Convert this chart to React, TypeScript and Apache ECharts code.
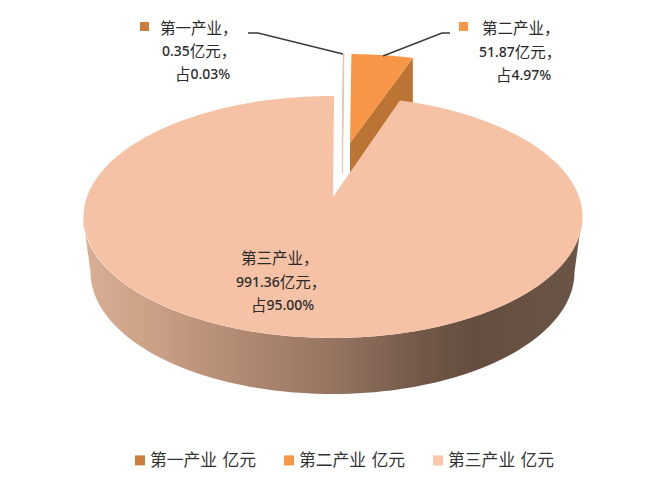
import React, { useEffect, useRef } from "react";
import * as echarts from "echarts";

const sectors = ["第一产业", "第二产业", "第三产业"];
const unit = "亿元";
const values = [0.35, 51.87, 991.36];
const shares = ["0.03", "4.97", "95.00"];
const valueLabels = ["0.35", "51.87", "991.36"];
const colors = ["#cb7d3b", "#f79646", "#f6c2a6"];
const legendColors = ["#cb7d3b", "#f79646", "#fcc5a8"];

const CX = 332.5, CY = 217, RX = 249.5, RY = 121, PERSP = 0.165, ROT = 0.3;
const base = { x: CX, y: CY - RY * PERSP };
const sliceShape = [
  { ax: 342.4, ay: 143, sx: 0.94, sy: 0.88, depth: 30, wall: "#e3bd9e", stroke: "#e6c7ae" },
  { ax: 350, ay: 143, sx: 0.94, sy: 0.88, depth: 56, wall: "#bc7434", stroke: "none" },
  { ax: 333, ay: 197, sx: 1, sy: 1, depth: 0, wall: "", stroke: "none" },
];

function rel(deg: number) {
  const t = ((deg + ROT) * Math.PI) / 180;
  const X = Math.sin(t), Y = Math.cos(t);
  const d = 1 + PERSP * Y;
  const u = (X * Math.sqrt(1 - PERSP * PERSP)) / d;
  const v = (Y + PERSP) / d;
  return { x: CX + RX * u - base.x, y: CY - RY * v - base.y };
}

function ell(cx: number, cy: number, rx: number, ry: number, deg: number) {
  const t = (deg * Math.PI) / 180;
  return [cx + rx * Math.sin(t), cy - ry * Math.cos(t)];
}

const total = values.reduce((a, b) => a + b, 0);

function makeRender(index: number) {
  return (_p: any, api: any) => {
    const before = values.slice(0, index).reduce((a, b) => a + b, 0);
    const start = (before / total) * 360;
    const end = start + (api.value(0) / total) * 360;
    const s = sliceShape[index];
    const steps = Math.max(2, Math.ceil(end - start));
    const arc: number[][] = [];
    for (let i = 0; i <= steps; i++) {
      const r = rel(start + ((end - start) * i) / steps);
      arc.push([s.ax + r.x * s.sx, s.ay + r.y * s.sy]);
    }
    const children: any[] = [];
    if (index === 2) {
      const wall: number[][] = [];
      for (let d = 90; d <= 270; d += 2) wall.push(ell(CX, CY, RX, RY, d));
      for (let d = 270; d >= 90; d -= 2) wall.push(ell(CX, 272, 242, 122, d));
      children.push({
        type: "polygon",
        shape: { points: wall },
        style: {
          fill: new echarts.graphic.LinearGradient(0, 0, 1, 0, [
            { offset: 0, color: "#d9ae95" },
            { offset: 0.12, color: "#cda388" },
            { offset: 0.3, color: "#b48b74" },
            { offset: 0.5, color: "#967562" },
            { offset: 0.68, color: "#725848" },
            { offset: 0.78, color: "#644e40" },
            { offset: 1, color: "#6b5546" },
          ]),
        },
      });
    } else {
      const last = arc[arc.length - 1];
      const first = arc[0];
      const far = index === 0 ? first : last;
      children.push({
        type: "polygon",
        shape: {
          points: [[s.ax, s.ay], far, [far[0], far[1] + s.depth], [s.ax, s.ay + s.depth]],
        },
        style: { fill: s.wall, stroke: s.stroke, lineWidth: index === 0 ? 1 : 0 },
      });
    }
    children.push({
      type: "polygon",
      shape: { points: [[s.ax, s.ay], ...arc] },
      style: {
        fill: index === 0 ? s.stroke : colors[index],
        stroke: s.stroke,
        lineWidth: index === 0 ? 1 : 0,
      },
    });
    return { type: "group", children };
  };
}

const labelLayout = [
  { marker: [140, 22], xs: [160, 162, 175], ys: [27, 50, 73], markerColor: colors[0] },
  { marker: [459, 22], xs: [482, 479, 496], ys: [27, 51, 74], markerColor: colors[1] },
  { marker: [219, 253], xs: [241, 236, 251], ys: [257, 281, 304], markerColor: "#f9cab0" },
];

const rich = {
  c: { fontFamily: "'Noto Sans CJK SC'", fontSize: 15.5, fill: "#2b2b2b", color: "#2b2b2b" },
  n: { fontFamily: "'Noto Sans'", fontSize: 14, fontWeight: 500, fill: "#2b2b2b", color: "#2b2b2b" },
};

function labelGraphics() {
  const out: any[] = [];
  labelLayout.forEach((l, i) => {
    out.push({
      type: "rect",
      silent: true,
      shape: { x: l.marker[0], y: l.marker[1], width: 9, height: 9 },
      style: { fill: l.markerColor },
    });
    const lines = [
      `{c|${sectors[i]}，}`,
      `{n|${valueLabels[i]}}{c|${unit}，}`,
      `{c|占}{n|${shares[i]}%}`,
    ];
    lines.forEach((text, j) => {
      out.push({
        type: "text",
        silent: true,
        x: l.xs[j],
        y: l.ys[j],
        z: 10,
        style: { text, rich, verticalAlign: "middle", align: "left" },
      });
    });
  });
  const leader = (points: number[][]) => ({
    type: "polyline",
    silent: true,
    z: 9,
    shape: { points },
    style: { stroke: "#3a3a3a", lineWidth: 1.4, fill: "none" },
  });
  out.push(leader([[248, 33], [258, 33], [343, 54]]));
  out.push(leader([[383, 56], [442, 33], [450, 33]]));
  return out;
}

export default function App() {
  const ref = useRef<HTMLDivElement>(null);
  useEffect(() => {
    const chart = echarts.init(ref.current!, null, { renderer: "svg" });
    chart.setOption({
      animation: false,
      backgroundColor: "#ffffff",
      legend: {
        left: 130,
        top: 447,
        itemWidth: 10,
        itemHeight: 10,
        itemGap: 28,
        selectedMode: false,
        icon: "rect",
        data: sectors.map((s) => `${s} ${unit}`),
        textStyle: {
          fontFamily: "'DejaVu Sans','Noto Sans CJK SC'",
          fontSize: 16.8,
          color: "#333333",
        },
      },
      graphic: labelGraphics(),
      series: sectors.map((s, i) => ({
        type: "custom",
        name: `${s} ${unit}`,
        coordinateSystem: "none",
        silent: true,
        itemStyle: { color: legendColors[i] },
        renderItem: makeRender(i),
        data: [values[i]],
      })),
    });
    return () => chart.dispose();
  }, []);
  return (
    <div
      ref={ref}
      style={{ position: "absolute", left: 0, top: 0, width: 672, height: 501 }}
    />
  );
}
